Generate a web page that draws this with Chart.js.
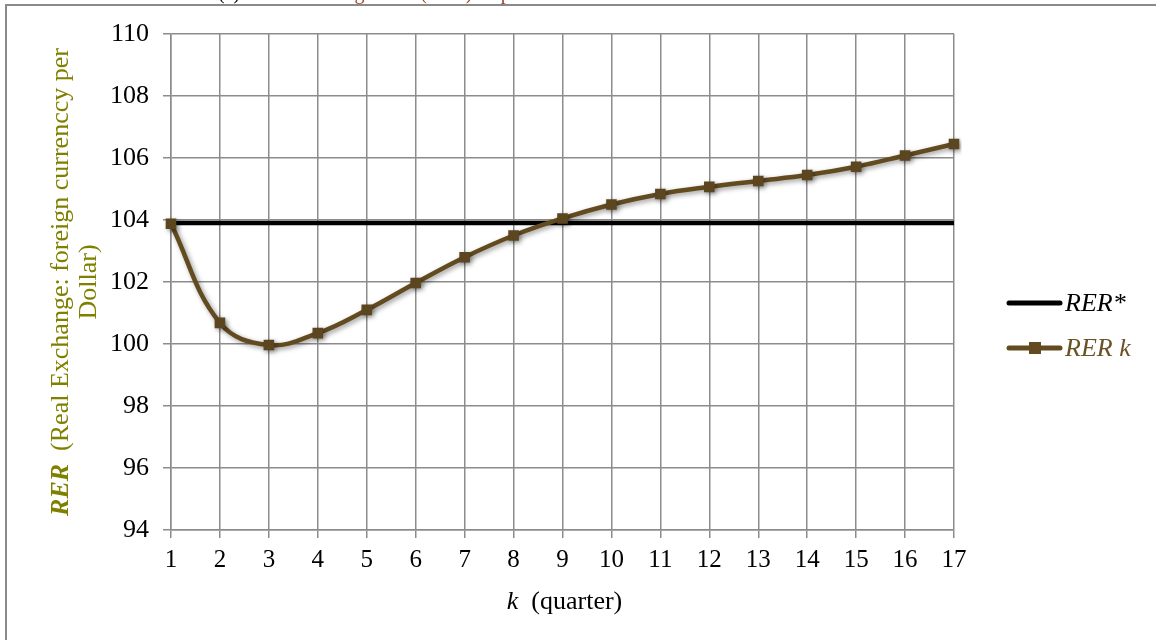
<!DOCTYPE html>
<html>
<head>
<meta charset="utf-8">
<script src="https://cdn.jsdelivr.net/npm/chart.js@4"></script>
<style>
html,body{margin:0;padding:0;background:#fff;overflow:hidden;}
#wrap{position:relative;width:1156px;height:640px;}
.ttl{position:absolute;top:-18px;font-family:"Liberation Serif",serif;font-size:20px;line-height:20px;white-space:nowrap;}
#t1{left:218px;color:#000;}
#t2{left:253px;color:#a0442c;}
</style>
</head>
<body>
<div id="wrap">
<canvas id="c" width="1156" height="640"></canvas>
<div class="ttl" id="t1">(c)</div>
<div class="ttl" id="t2">Real Exchange Rate (RER) response</div>
</div>
<script>
const kLabels = ['1','2','3','4','5','6','7','8','9','10','11','12','13','14','15','16','17'];
const rerStar = [103.9,103.9,103.9,103.9,103.9,103.9,103.9,103.9,103.9,103.9,103.9,103.9,103.9,103.9,103.9,103.9,103.9];
const rerK = [103.88,100.68,99.97,100.35,101.1,101.97,102.8,103.5,104.05,104.5,104.84,105.07,105.26,105.45,105.72,106.08,106.45];
const yTicks = [94,96,98,100,102,104,106,108,110];
const seriesNames = ['RER*','RER k'];
const yTitle1a = 'RER';
const yTitle1b = '  (Real Exchange: foreign currenccy per';
const yTitle2 = 'Dollar)';
const xTitleA = 'k';
const xTitleB = '  (quarter)';

const BROWN = '#634b20';
const SERIF = '"Liberation Serif", "Times New Roman", serif';

const decor = {
  id: 'decor',
  beforeDraw(chart) {
    const ctx = chart.ctx;
    ctx.save();
    ctx.fillStyle = '#fff';
    ctx.fillRect(0, 0, chart.width, chart.height);
    ctx.strokeStyle = '#8a8a8a';
    ctx.lineWidth = 2;
    ctx.beginPath();
    ctx.moveTo(6, 640);
    ctx.lineTo(6, 5);
    ctx.lineTo(1156, 5);
    ctx.stroke();
    ctx.restore();
  },
  beforeDatasetDraw(chart, args) {
    if (args.index === 1) {
      const ctx = chart.ctx;
      ctx.save();
      ctx.shadowColor = 'rgba(0,0,0,0.4)';
      ctx.shadowBlur = 5;
      ctx.shadowOffsetX = 2;
      ctx.shadowOffsetY = 2;
    }
  },
  afterDatasetDraw(chart, args) {
    if (args.index === 1) chart.ctx.restore();
  },
  afterDraw(chart) {
    const ctx = chart.ctx;
    const a = chart.chartArea;
    const FS = 26;
    ctx.save();
    // Y title
    const cy = (a.top + a.bottom) / 2;
    ctx.translate(61, cy);
    ctx.rotate(-Math.PI / 2);
    ctx.fillStyle = '#808000';
    ctx.textBaseline = 'middle';
    ctx.font = 'bold italic ' + FS + 'px ' + SERIF;
    const w1 = ctx.measureText(yTitle1a).width;
    ctx.font = FS + 'px ' + SERIF;
    const w2 = ctx.measureText(yTitle1b).width;
    let x0 = -(w1 + w2) / 2;
    ctx.font = 'bold italic ' + FS + 'px ' + SERIF;
    ctx.textAlign = 'left';
    ctx.fillText(yTitle1a, x0, 0);
    ctx.font = FS + 'px ' + SERIF;
    ctx.fillText(yTitle1b, x0 + w1, 0);
    ctx.textAlign = 'center';
    ctx.fillText(yTitle2, 0, 28);
    ctx.restore();

    // X title
    ctx.save();
    ctx.fillStyle = '#000';
    ctx.textBaseline = 'alphabetic';
    ctx.font = 'italic ' + FS + 'px ' + SERIF;
    const wa = ctx.measureText(xTitleA).width;
    ctx.font = FS + 'px ' + SERIF;
    const wb = ctx.measureText(xTitleB).width;
    const xc = (a.left + a.right) / 2 + 2;
    let xs = xc - (wa + wb) / 2;
    ctx.textAlign = 'left';
    ctx.font = 'italic ' + FS + 'px ' + SERIF;
    ctx.fillText(xTitleA, xs, 609);
    ctx.font = FS + 'px ' + SERIF;
    ctx.fillText(xTitleB, xs + wa, 609);
    ctx.restore();

    // Legend
    ctx.save();
    ctx.lineCap = 'round';
    ctx.lineWidth = 5;
    ctx.strokeStyle = '#000';
    ctx.beginPath(); ctx.moveTo(1009, 303); ctx.lineTo(1060, 303); ctx.stroke();
    ctx.strokeStyle = BROWN;
    ctx.beginPath(); ctx.moveTo(1009, 348); ctx.lineTo(1060, 348); ctx.stroke();
    ctx.fillStyle = BROWN;
    ctx.fillRect(1029, 342, 12, 12);
    ctx.font = 'italic ' + FS + 'px ' + SERIF;
    ctx.textBaseline = 'middle';
    ctx.textAlign = 'left';
    ctx.fillStyle = '#000';
    ctx.fillText(seriesNames[0], 1065, 304);
    ctx.fillStyle = '#6b5226';
    ctx.fillText(seriesNames[1], 1065, 349);
    ctx.restore();
  }
};

new Chart(document.getElementById('c'), {
  type: 'line',
  data: {
    labels: kLabels,
    datasets: [
      {
        label: seriesNames[0],
        data: rerStar,
        borderColor: '#000',
        borderWidth: 4.5,
        pointRadius: 0,
        tension: 0,
        order: 2
      },
      {
        label: seriesNames[1],
        data: rerK,
        borderColor: BROWN,
        borderWidth: 4.5,
        pointStyle: 'rect',
        pointRadius: 7.5,
        pointBackgroundColor: '#5c4620',
        pointBorderColor: '#5c4620',
        pointBorderWidth: 0,
        tension: 0.4,
        order: 1
      }
    ]
  },
  options: {
    responsive: false,
    animation: false,
    devicePixelRatio: 1,
    layout: { padding: { left: 0, right: 202, top: 34, bottom: 0 } },
    plugins: { legend: { display: false }, tooltip: { enabled: false }, title: { display: false } },
    scales: {
      x: {
        type: 'category',
        offset: false,
        afterFit(s) { s.height = 110; },
        grid: { color: '#8c8c8c', lineWidth: 1.5, tickLength: 8, drawTicks: true },
        border: { color: '#8c8c8c', width: 1.5 },
        ticks: { color: '#000', font: { family: SERIF, size: 25 }, padding: 7, maxRotation: 0, autoSkip: false }
      },
      y: {
        min: 94,
        max: 110,
        afterFit(s) { s.width = 171; },
        afterBuildTicks(s) { s.ticks = yTicks.map(v => ({ value: v })); },
        grid: { color: '#8c8c8c', lineWidth: 1.5, tickLength: 8 },
        border: { color: '#8c8c8c', width: 1.5 },
        ticks: { color: '#000', font: { family: SERIF, size: 26 }, padding: 14 }
      }
    }
  },
  plugins: [decor]
});
</script>
</body>
</html>
